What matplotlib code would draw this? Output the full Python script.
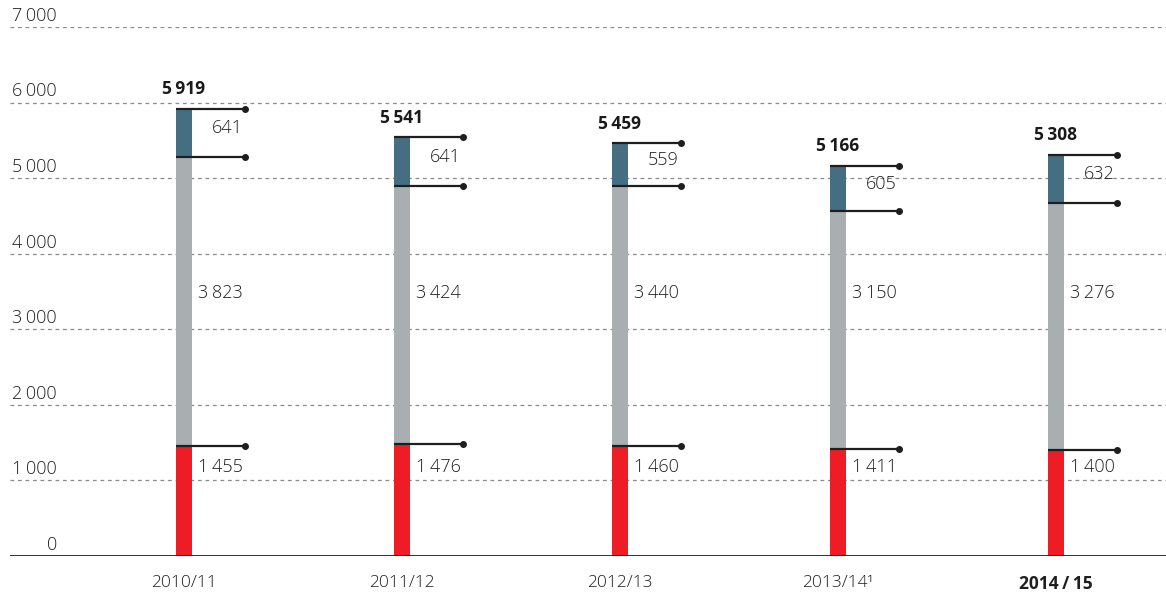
import numpy as np
import matplotlib.pyplot as plt
from matplotlib import transforms

plt.rcParams['font.family'] = ['Open Sans', 'DejaVu Sans']

years = ["2010/11", "2011/12", "2012/13", "2013/14\u00b9", "2014\u2009/\u200915"]
red_vals = [1455, 1476, 1460, 1411, 1400]
gray_vals = [3823, 3424, 3440, 3150, 3276]
blue_vals = [641, 641, 559, 605, 632]
totals = [5919, 5541, 5459, 5166, 5308]
yticks = [0, 1000, 2000, 3000, 4000, 5000, 6000, 7000]

def fmt(v):
    s = str(v)
    if len(s) > 3:
        s = s[:-3] + "\u2009" + s[-3:]
    return s

c_red = "#ee1c25"
c_gray = "#a9aeb1"
c_blue = "#456e82"
c_line = "#1e1e1e"
c_txt = "#1f1f1f"

fig = plt.figure(figsize=(11.66, 6.02), dpi=100)
ax = fig.add_axes([10/1166, 46/602, 1156/1166, 529/602])

x = np.arange(len(years))
w = 0.073
ext = 0.28

red = np.array(red_vals)
gray = np.array(gray_vals)
blue = np.array(blue_vals)

ax.bar(x, red, w, color=c_red, zorder=2)
ax.bar(x, gray, w, bottom=red, color=c_gray, zorder=2)
ax.bar(x, blue, w, bottom=red + gray, color=c_blue, zorder=2)

# gray and red labels sit on one row each
gray_row = 3480
red_row = 1178

for i in x:
    for lvl in [red[i], red[i] + gray[i], red[i] + gray[i] + blue[i]]:
        ax.plot([i - w / 2, i + ext], [lvl, lvl], color=c_line, lw=1.6, zorder=3,
                solid_capstyle='butt')
        ax.plot([i + ext], [lvl], 'o', color=c_line, ms=4, zorder=3)
    ax.text(i + ext - 0.01, red_row, fmt(red[i]), ha='right', va='center',
            fontsize=13, color=c_txt, fontweight='light')
    ax.text(i + ext - 0.01, gray_row, fmt(gray[i]), ha='right', va='center',
            fontsize=13, color=c_txt, fontweight='light')
    ax.text(i + ext - 0.01, red[i] + gray[i] + blue[i] / 2 + 60, fmt(blue[i]), ha='right',
            va='center', fontsize=13, color=c_txt, fontweight='light')
    ax.annotate(fmt(totals[i]), (i, totals[i]), xytext=(0, 14),
                textcoords='offset points', ha='center', va='center',
                fontsize=12.5, fontweight='bold', color="#1a1a1a")

# gridlines and baseline
for t in yticks[1:]:
    ax.axhline(t, color="#8a8a8a", lw=0.9, ls=(0, (3, 3)), zorder=1)
ax.axhline(0, color="#222222", lw=1.3, zorder=4)

# y labels above gridlines
trans = transforms.blended_transform_factory(ax.transAxes, ax.transData)
for t in yticks:
    ax.annotate(f"{t:,}".replace(",", "\u2009"), (47 / 1156, t), xycoords=trans,
                xytext=(0, 8), textcoords='offset points', ha='right', va='center',
                fontsize=13, color=c_txt, fontweight='light')

ax.set_xlim(-0.798, 4.505)
ax.set_ylim(0, 7000)
ax.set_xticks(x)
ax.set_xticklabels(years, fontsize=12.5, color=c_txt, fontweight='light')
ax.get_xticklabels()[-1].set_fontweight('bold')
ax.tick_params(axis='x', length=0, pad=14)
ax.set_yticks([])
for s in ax.spines.values():
    s.set_visible(False)

fig.savefig("out.png", dpi=100)
